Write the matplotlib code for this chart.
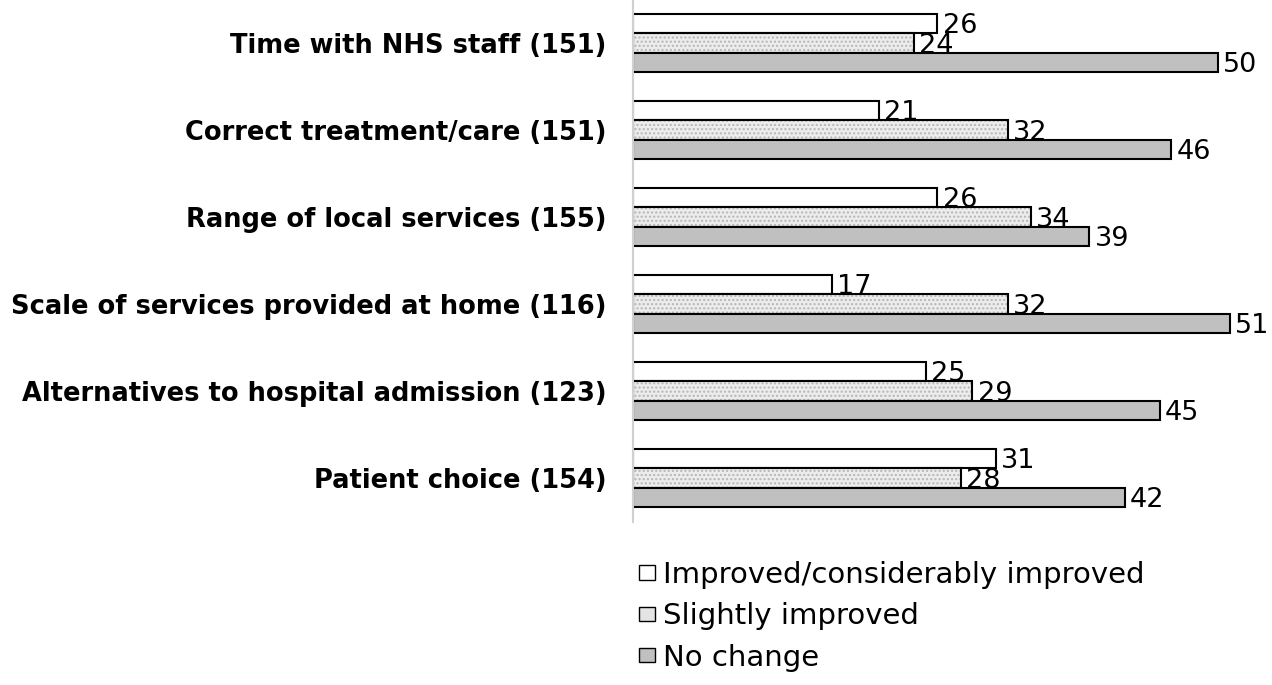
import matplotlib.pyplot as plt
from matplotlib.patches import Patch
import numpy as np

# Survey categories and percentages
categories = [
    "Time with NHS staff (151)",
    "Correct treatment/care (151)",
    "Range of local services (155)",
    "Scale of services provided at home (116)",
    "Alternatives to hospital admission (123)",
    "Patient choice (154)",
]
improved = [26, 21, 26, 17, 25, 31]
slightly = [24, 32, 34, 32, 29, 28]
no_change = [50, 46, 39, 51, 45, 42]
series_names = ["Improved/considerably improved", "Slightly improved", "No change"]

fig = plt.figure(figsize=(12.72, 6.85), dpi=100)
ax = fig.add_axes([633 / 1272, 1 - 521.5 / 685, 1 - 633 / 1272, 522 / 685])

y = np.arange(len(categories))
h = 0.224

# white bars
b1 = ax.barh(y - h, improved, height=h, color="white", edgecolor="black", linewidth=1.5)
# dotted bars: hatch in grey, then black outline on top
ax.barh(y, slightly, height=h, color="#ececec", edgecolor="#b5b5b5", hatch="....", linewidth=0)
b2 = ax.barh(y, slightly, height=h, color="none", edgecolor="black", linewidth=1.5)
b3 = ax.barh(y + h, no_change, height=h, color="#c0c0c0", edgecolor="black", linewidth=1.5)

for bars, vals in [(b1, improved), (b2, slightly), (b3, no_change)]:
    for rect, v in zip(bars, vals):
        ax.text(rect.get_width() + 0.45, rect.get_y() + rect.get_height() / 2 + 0.03, str(v),
                va="center", ha="left", fontsize=19.5)

ax.set_xlim(0, 54.6)
ax.set_ylim(5.5, -0.5)
ax.set_yticks(y)
ax.set_yticklabels(categories, fontsize=18.5, fontweight="bold")
ax.tick_params(axis="y", length=0, pad=19)
ax.set_xticks([])
for s in ["top", "right", "bottom"]:
    ax.spines[s].set_visible(False)
ax.spines["left"].set_color("#d0d0d0")
ax.spines["left"].set_linewidth(1.5)

handles = [
    Patch(facecolor="white", edgecolor="black", linewidth=1),
    Patch(facecolor="#e4e4e4", edgecolor="black", linewidth=1),
    Patch(facecolor="#c0c0c0", edgecolor="black", linewidth=1),
]
fig.legend(handles, series_names, loc="upper left", bbox_to_anchor=(613 / 1272, 1 - 535 / 685),
           frameon=False, fontsize=21, handlelength=0.55, handleheight=0.4,
           handletextpad=0.25, labelspacing=0.45)

fig.savefig("out.png", dpi=100)
